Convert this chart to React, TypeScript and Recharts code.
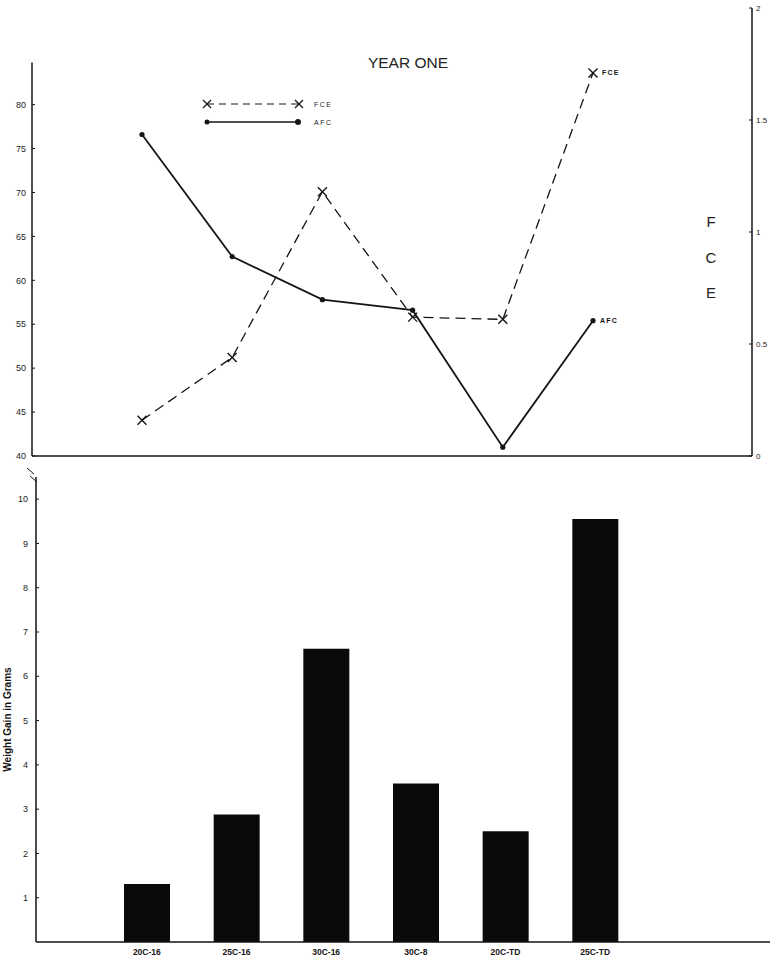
import React from 'react';
import { LineChart, Line, XAxis, YAxis, BarChart, Bar, ReferenceLine, LabelList } from 'recharts';

const treatments = ['20C-16', '25C-16', '30C-16', '30C-8', '20C-TD', '25C-TD'];
const afcValues = [76.6, 62.7, 57.8, 56.6, 41.0, 55.4];
const fceValues = [0.16, 0.44, 1.18, 0.62, 0.61, 1.71];
const weightGain = [1.31, 2.88, 6.62, 3.58, 2.5, 9.55];
const afcTicks = [40, 45, 50, 55, 60, 65, 70, 75, 80];
const fceTicks = [0, 0.5, 1, 1.5, 2];
const fceTickLabels = ['0', '0.5', '1', '1.5', '2'];
const weightTicks = [1, 2, 3, 4, 5, 6, 7, 8, 9, 10];

const lineData = treatments.map((t, i) => ({ treatment: t, afc: afcValues[i], fce: fceValues[i] }));
const barData = treatments.map((t, i) => ({ treatment: t, gain: weightGain[i] }));

const FONT = '"Liberation Sans", Arial, sans-serif';
const INK = '#151515';

const CrossDot = (props: any) => {
  const { cx, cy, index } = props;
  if (cx == null || cy == null) return null;
  const s = 4.5;
  return (
    <g key={`x-${index}`}>
      <line x1={cx - s} y1={cy - s} x2={cx + s} y2={cy + s} stroke={INK} strokeWidth={1.4} />
      <line x1={cx - s} y1={cy + s} x2={cx + s} y2={cy - s} stroke={INK} strokeWidth={1.4} />
    </g>
  );
};

const endLabel = (text: string, dx: number, dy: number) => (props: any) => {
  const { x, y, index } = props;
  if (index !== treatments.length - 1) return null;
  return (
    <text key={`lbl-${text}`} x={x + dx} y={y + dy} fontSize={7} fontWeight={700} letterSpacing={1.2} fill={INK} fontFamily={FONT}>
      {text}
    </text>
  );
};

export default function App() {
  return (
    <div style={{ position: 'absolute', left: 0, top: 0, width: 776, height: 962, background: '#fff' }}>
      <div style={{ position: 'absolute', left: 0, top: 0 }}>
        <LineChart width={776} height={461} data={lineData} margin={{ top: 8, right: 0, bottom: 0, left: 5 }}>
          <XAxis
            xAxisId="c"
            dataKey="treatment"
            scale="point"
            padding={{ left: 110, right: 159 }}
            tick={false}
            tickLine={false}
            height={5}
            axisLine={{ stroke: INK, strokeWidth: 1.5 }}
          />
          <XAxis xAxisId="n" type="number" domain={[0, 1]} hide />
          <YAxis
            yAxisId="afc"
            orientation="left"
            domain={[40, 91]}
            ticks={afcTicks}
            width={27}
            axisLine={false}
            tickSize={-3}
            tickMargin={9}
            tickLine={{ stroke: INK }}
            tick={{ fontSize: 9, fill: '#222', fontFamily: FONT }}
            interval={0}
          />
          <YAxis
            yAxisId="fce"
            orientation="right"
            domain={[0, 2]}
            ticks={fceTicks}
            width={24}
            tickFormatter={(v: number) => fceTickLabels[fceTicks.indexOf(v)] ?? String(v)}
            axisLine={{ stroke: INK, strokeWidth: 1.5 }}
            tickSize={-3}
            tickMargin={7}
            tickLine={{ stroke: INK }}
            tick={{ fontSize: 8, fill: '#222', fontFamily: FONT }}
            interval={0}
          />
          <ReferenceLine
            xAxisId="n"
            yAxisId="afc"
            segment={[{ x: 0, y: 40 }, { x: 0, y: 84.8 }]}
            stroke={INK}
            strokeWidth={1.5}
          />
          <Line
            xAxisId="c"
            yAxisId="fce"
            dataKey="fce"
            stroke={INK}
            strokeWidth={1.3}
            strokeDasharray="10 6"
            dot={CrossDot}
            activeDot={false}
            isAnimationActive={false}
          >
            <LabelList dataKey="fce" content={endLabel('FCE', 9, 2)} />
          </Line>
          <Line
            xAxisId="c"
            yAxisId="afc"
            dataKey="afc"
            stroke={INK}
            strokeWidth={1.8}
            dot={{ r: 2.6, fill: INK, stroke: INK, strokeWidth: 0 }}
            activeDot={false}
            isAnimationActive={false}
          >
            <LabelList dataKey="afc" content={endLabel('AFC', 7, 2)} />
          </Line>
        </LineChart>
      </div>

      <div style={{ position: 'absolute', left: 0, top: 470 }}>
        <BarChart width={776} height={492} data={barData} margin={{ top: 7, right: 6, bottom: 0, left: 0 }}>
          <XAxis
            dataKey="treatment"
            scale="band"
            padding={{ left: 66, right: 130 }}
            axisLine={{ stroke: INK, strokeWidth: 1.5 }}
            tickLine={false}
            tickSize={4}
            tickMargin={3}
            height={20}
            interval={0}
            tick={{ fontSize: 8.5, fontWeight: 700, fill: INK, fontFamily: FONT }}
          />
          <YAxis
            domain={[0, 10.5]}
            ticks={weightTicks}
            width={36}
            axisLine={{ stroke: INK, strokeWidth: 1.5 }}
            tickSize={-3}
            tickMargin={11}
            tickLine={{ stroke: INK }}
            tick={{ fontSize: 9, fill: '#222', fontFamily: FONT }}
            interval={0}
            label={{
              value: 'Weight Gain in Grams',
              angle: -90,
              position: 'insideLeft',
              offset: 7,
              dy: 10,
              style: { fontSize: 10, fontWeight: 700, fill: INK, fontFamily: FONT, textAnchor: 'middle' },
            }}
          />
          <Bar dataKey="gain" fill="#0a0a0a" barSize={46} isAnimationActive={false} />
        </BarChart>
      </div>

      <svg width={776} height={962} style={{ position: 'absolute', left: 0, top: 0, pointerEvents: 'none' }}>
        <text x={408} y={68} textAnchor="middle" fontSize={15.5} fill="#222" fontFamily={FONT}>
          YEAR ONE
        </text>
        {/* legend */}
        <line x1={207} y1={104} x2={299} y2={104} stroke={INK} strokeWidth={1.2} strokeDasharray="7 5" />
        <g>
          <line x1={203} y1={100} x2={211} y2={108} stroke={INK} strokeWidth={1.3} />
          <line x1={203} y1={108} x2={211} y2={100} stroke={INK} strokeWidth={1.3} />
          <line x1={295} y1={100} x2={303} y2={108} stroke={INK} strokeWidth={1.3} />
          <line x1={295} y1={108} x2={303} y2={100} stroke={INK} strokeWidth={1.3} />
        </g>
        <text x={314} y={107} fontSize={7} letterSpacing={1.5} fill="#222" fontFamily={FONT}>FCE</text>
        <line x1={207} y1={122} x2={298} y2={122} stroke={INK} strokeWidth={1.6} />
        <circle cx={207} cy={122} r={2.5} fill={INK} />
        <circle cx={298} cy={122} r={3} fill={INK} />
        <text x={314} y={125} fontSize={7} letterSpacing={1.5} fill="#222" fontFamily={FONT}>AFC</text>
        {/* right axis title letters */}
        <text x={711} y={227} textAnchor="middle" fontSize={15} fill="#222" fontFamily={FONT}>F</text>
        <text x={711} y={263} textAnchor="middle" fontSize={15} fill="#222" fontFamily={FONT}>C</text>
        <text x={711} y={298} textAnchor="middle" fontSize={15} fill="#222" fontFamily={FONT}>E</text>
        {/* axis break mark */}
        <line x1={27} y1={468} x2={34} y2={474} stroke={INK} strokeWidth={1} />
        <line x1={30} y1={476} x2={37} y2={482} stroke={INK} strokeWidth={1} />
      </svg>
    </div>
  );
}
